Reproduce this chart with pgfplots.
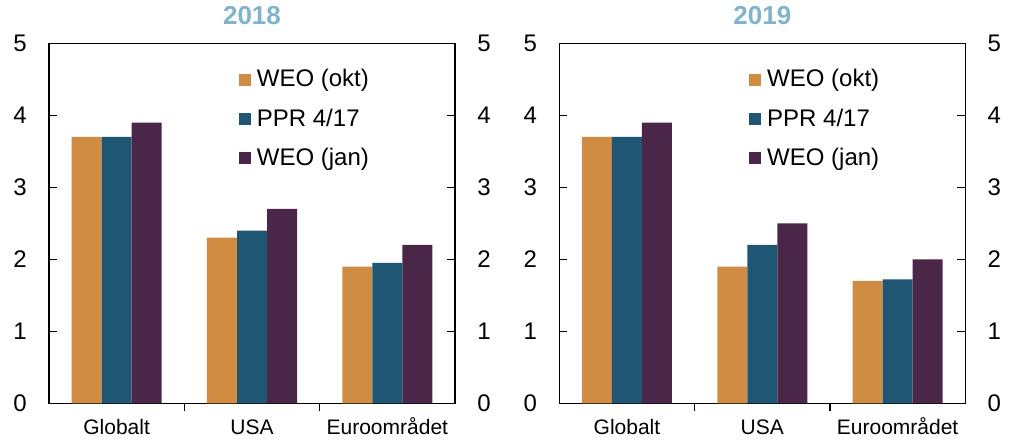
\documentclass[border=0pt]{standalone}
\usepackage{fontspec}
\setmainfont{Liberation Sans}
\usepackage{pgfplots}
\pgfplotsset{compat=1.18}

\definecolor{weookt}{HTML}{CF8C42}
\definecolor{ppr}{HTML}{1F5673}
\definecolor{weojan}{HTML}{4A2649}
\definecolor{titleblue}{HTML}{80B4CE}

% shared look of both panels
\pgfplotsset{
  panel/.style={
    scale only axis, width=203pt, height=180pt,
    anchor=south west,
    font=\fontsize{10.5}{12}\selectfont,
    /pgf/number format/assume math mode=true,
    xmin=-0.5, xmax=2.5, ymin=0, ymax=5,
    ytick={0,1,2,3,4,5},
    xtick={0.5,1.5}, xticklabels={},
    extra x ticks={0,1,2},
    extra x tick labels={Globalt,USA,Euroområdet},
    extra x tick style={major tick length=0pt,
      xticklabel style={anchor=base, yshift=-15.5pt}},
    xtick pos=bottom, ytick pos=both, tick align=inside,
    major tick length=4pt,
    yticklabel style={inner sep=0pt, xshift=-11pt, font=\fontsize{12}{14}\selectfont},
    axis line style={line width=0.8pt},
    tick style={line width=0.6pt, black},
    ybar=0pt, bar width=15pt,
    title style={at={(0.5,1)}, anchor=base, yshift=3.5pt,
      font=\fontsize{13}{15}\selectfont\bfseries, text=titleblue},
    legend style={at={(0.452,0.945)}, anchor=north west, draw=none, fill=none,
      row sep=7.5pt, font=\fontsize{12}{14}\selectfont,
      nodes={inner sep=1pt, anchor=west}},
    legend cell align=left,
    legend image code/.code={\fill[##1, draw=none] (0pt,-3pt) rectangle (6pt,3pt); \path (8pt,0pt);},
  },
  rightlabels/.style={
    scale only axis, width=203pt, height=180pt,
    anchor=south west,
    font=\fontsize{12}{14}\selectfont,
    /pgf/number format/assume math mode=true,
    xmin=-0.5, xmax=2.5, ymin=0, ymax=5,
    ytick={0,1,2,3,4,5},
    axis x line=none, axis y line*=right,
    y axis line style={draw=none}, major tick length=0pt,
    yticklabel style={inner sep=0pt, xshift=11pt, anchor=west},
  },
}

\begin{document}
\begin{tikzpicture}
\useasboundingbox (0,0) rectangle (512pt,220pt);

\begin{axis}[panel, at={(24.5pt,18.35pt)}, title={2018}]
\addplot[fill=weookt, draw=none] coordinates {(0,3.7) (1,2.3) (2,1.9)};
\addplot[fill=ppr, draw=none] coordinates {(0,3.7) (1,2.4) (2,1.95)};
\addplot[fill=weojan, draw=none] coordinates {(0,3.9) (1,2.7) (2,2.2)};
\legend{WEO (okt), PPR 4/17, WEO (jan)}
\end{axis}
\begin{axis}[rightlabels, at={(24.5pt,18.35pt)}]
\end{axis}

\begin{axis}[panel, at={(279.65pt,18.35pt)}, title={2019}]
\addplot[fill=weookt, draw=none] coordinates {(0,3.7) (1,1.9) (2,1.7)};
\addplot[fill=ppr, draw=none] coordinates {(0,3.7) (1,2.2) (2,1.72)};
\addplot[fill=weojan, draw=none] coordinates {(0,3.9) (1,2.5) (2,2.0)};
\legend{WEO (okt), PPR 4/17, WEO (jan)}
\end{axis}
\begin{axis}[rightlabels, at={(279.65pt,18.35pt)}]
\end{axis}

\end{tikzpicture}
\end{document}
